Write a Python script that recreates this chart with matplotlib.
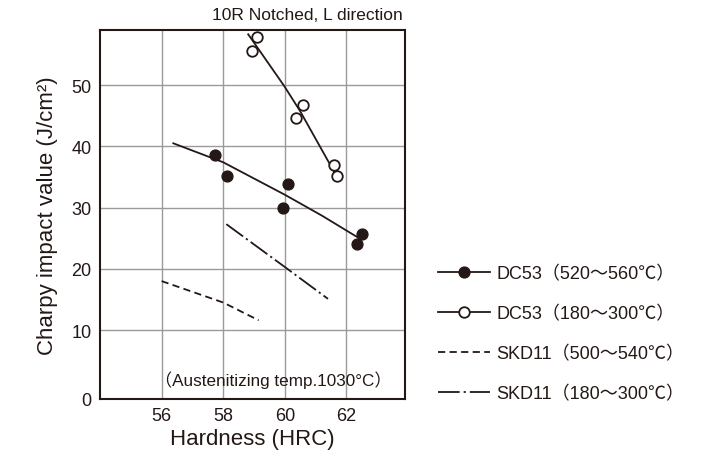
import matplotlib
matplotlib.use("Agg")
import matplotlib.pyplot as plt
from matplotlib.lines import Line2D

plt.rcParams['font.family'] = ['Liberation Sans', 'Noto Sans CJK JP', 'DejaVu Sans']

# DC53 (520~560C) measured points and trend line
dc53_hi_x = [57.73, 58.11, 60.09, 59.95, 62.51, 62.33]
dc53_hi_y = [38.6, 35.1, 33.8, 30.0, 25.7, 24.1]
dc53_hi_fit_x = [56.38, 58.0, 60.0, 61.2, 62.38]
dc53_hi_fit_y = [40.5, 37.4, 32.1, 28.7, 25.1]

# DC53 (180~300C) measured points and trend line
dc53_lo_x = [59.10, 58.92, 60.60, 60.36, 61.59, 61.70]
dc53_lo_y = [57.9, 55.6, 46.8, 44.6, 36.9, 35.2]
dc53_lo_fit_x = [58.81, 59.98, 60.49, 61.46, 61.70]
dc53_lo_fit_y = [58.3, 49.85, 45.8, 37.1, 34.9]

# SKD11 trend lines
skd_hi_x = [56.0, 58.0, 59.15]
skd_hi_y = [18.0, 14.5, 11.6]
skd_lo_x = [58.1, 60.0, 61.4]
skd_lo_y = [27.3, 20.3, 15.1]

labels = ['DC53（520～560℃）', 'DC53（180～300℃）',
          'SKD11（500～540℃）', 'SKD11（180～300℃）']
xticks = [56, 58, 60, 62]
yticks = [10, 20, 30, 40, 50]

fig = plt.figure(figsize=(7.25, 4.56), dpi=100)
ax = fig.add_axes([100/725, 56/456, 305/725, 369/456])

ymin, ymax = -1.25, 59.0
ax.set_xlim(54.0, 63.9)
ax.set_ylim(ymin, ymax)

lc = '#231815'
lw = 1.3
dash_pat = (4.0, 2.4)
dashdot_pat = (11.5, 2.0, 1.2, 2.0)
ax.plot(dc53_hi_fit_x, dc53_hi_fit_y, color=lc, lw=lw, zorder=3)
ax.plot(dc53_hi_x, dc53_hi_y, 'o', ms=7.8, color=lc, mfc=lc, zorder=4)
ax.plot(dc53_lo_fit_x, dc53_lo_fit_y, color=lc, lw=lw, zorder=3)
ax.plot(dc53_lo_x, dc53_lo_y, 'o', ms=7.6, color=lc, mfc='white', mew=1.3, zorder=4)
ax.plot(skd_hi_x, skd_hi_y, color=lc, lw=lw, dashes=dash_pat, zorder=3)
ax.plot(skd_lo_x, skd_lo_y, color=lc, lw=lw, dashes=dashdot_pat, zorder=3)

ax.set_xticks(xticks)
ax.set_xticklabels([str(v) for v in xticks])
ax.set_yticks([ymin] + yticks)
ax.set_yticklabels(['0'] + [str(v) for v in yticks])
ax.tick_params(length=0, labelsize=13, pad=6, colors=lc)
ax.grid(True, color='#9a9a9a', lw=1.0)
ax.set_axisbelow(True)
for s in ax.spines.values():
    s.set_color(lc)
    s.set_linewidth(1.5)

ax.set_xlabel('Hardness (HRC)', fontsize=16, color=lc, labelpad=3)
ax.set_ylabel('Charpy impact value (J/cm²)', fontsize=16, color=lc, labelpad=10)

fig.text(403/725, 1 - 16/456, '10R Notched, L direction', ha='right', va='center',
         fontsize=12.5, color=lc)
fig.text(273/725, 1 - 380/456, '（Austenitizing temp.1030°C）', ha='center', va='center',
         fontsize=12.3, color=lc)

handles = [
    Line2D([], [], color=lc, lw=lw, marker='o', ms=7.8, mfc=lc),
    Line2D([], [], color=lc, lw=lw, marker='o', ms=7.6, mfc='white', mew=1.3),
    Line2D([], [], color=lc, lw=lw, dashes=dash_pat),
    Line2D([], [], color=lc, lw=lw, dashes=(12.0, 2.2, 1.2, 2.2)),
]
fig.legend(handles, labels, loc='center left', bbox_to_anchor=(438/725, 1 - 334.5/456),
           frameon=False, fontsize=13, handlelength=2.9, handletextpad=0.35,
           labelspacing=1.26, borderpad=0, borderaxespad=0, labelcolor=lc)

fig.savefig('out.png', dpi=100)
